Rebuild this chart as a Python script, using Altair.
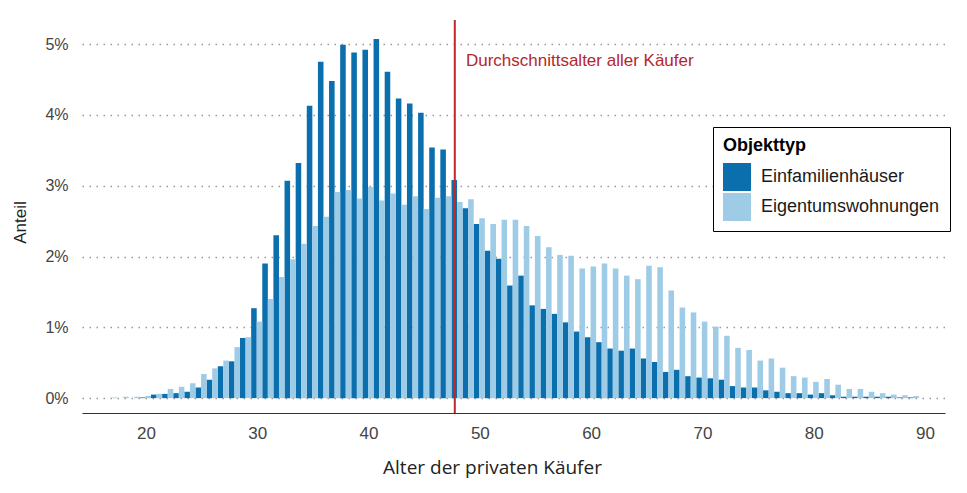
import altair as alt
import pandas as pd

ages = list(range(17, 90))
efh = [0.0, 0.0, 0.0, 0.01, 0.05, 0.06, 0.07, 0.09, 0.15, 0.26,
       0.45, 0.52, 0.85, 1.27, 1.90, 2.30, 3.07, 3.32, 4.13, 4.75,
       4.48, 4.99, 4.88, 4.92, 5.07, 4.61, 4.23, 4.16, 4.03, 3.54,
       3.51, 3.08, 2.68, 2.46, 2.08, 1.97, 1.59, 1.73, 1.31, 1.26,
       1.19, 1.07, 0.94, 0.86, 0.79, 0.70, 0.67, 0.70, 0.56, 0.51,
       0.37, 0.40, 0.31, 0.29, 0.28, 0.26, 0.17, 0.15, 0.15, 0.11,
       0.09, 0.07, 0.07, 0.05, 0.07, 0.04, 0.02, 0.02, 0.02, 0.02,
       0.02, 0.01, 0.01]
etw = [0.01, 0.02, 0.02, 0.03, 0.06, 0.13, 0.16, 0.21, 0.34, 0.42,
       0.53, 0.72, 0.86, 1.08, 1.40, 1.71, 1.96, 2.18, 2.43, 2.56,
       2.91, 2.94, 2.82, 2.98, 2.79, 2.89, 2.73, 2.85, 2.67, 2.83,
       2.85, 2.77, 2.81, 2.54, 2.46, 2.52, 2.52, 2.43, 2.29, 2.13,
       2.02, 2.01, 1.83, 1.86, 1.90, 1.83, 1.73, 1.68, 1.87, 1.85,
       1.52, 1.28, 1.21, 1.08, 1.01, 0.88, 0.71, 0.68, 0.53, 0.56,
       0.43, 0.31, 0.29, 0.23, 0.27, 0.19, 0.13, 0.13, 0.09, 0.07,
       0.05, 0.04, 0.03]
types = ["Einfamilienhäuser", "Eigentumswohnungen"]
colors = ["#0b6fae", "#9ecbe6"]
mean_age = [47.75]
annotation = ["Durchschnittsalter aller Käufer"]
annot_x = [48.75]
annot_y = [4.76]
x_ticks = [20, 30, 40, 50, 60, 70, 80, 90]
y_ticks = [0, 0.5, 1, 1.5, 2, 2.5, 3, 3.5, 4, 4.5, 5]

rows = []
for a, v in zip(ages, efh):
    rows.append({"Alter": a, "Objekttyp": types[0], "Anteil": v})
for a, v in zip(ages, etw):
    rows.append({"Alter": a, "Objekttyp": types[1], "Anteil": v})
df = pd.DataFrame(rows)

FONT = "Liberation Sans"
xscale = alt.Scale(domain=[14.25, 91.8], nice=False, zero=False)
yscale = alt.Scale(domain=[-0.21, 5.34], nice=False, zero=False)

bars = alt.Chart(df).transform_calculate(
    x0="datum.Objekttyp == 'Einfamilienhäuser' ? datum.Alter - 0.55 : datum.Alter - 0.05",
    x1="datum.Objekttyp == 'Einfamilienhäuser' ? datum.Alter - 0.05 : datum.Alter + 0.45",
).mark_bar(strokeWidth=0).encode(
    x=alt.X("x0:Q", scale=xscale, title="Alter der privaten Käufer",
            axis=alt.Axis(values=x_ticks, grid=False, ticks=False, domain=True,
                          domainColor="#333333", domainWidth=1.2,
                          labelFontSize=17, labelColor="#444444", labelFont=FONT,
                          labelPadding=12, titleFont="Open Sans", titleFontSize=19,
                          titleFontWeight="normal", titleColor="#222222",
                          titleX=410, titleY=54, titleAlign="center",
                          titleBaseline="middle")),
    x2="x1:Q",
    y=alt.Y("Anteil:Q", scale=yscale, title="Anteil",
            axis=alt.Axis(values=y_ticks, grid=True, gridDash=[1.5, 5.5], gridColor="#999999",
                          gridWidth=1.3, ticks=False, domain=False,
                          labelExpr="datum.value % 1 == 0 ? datum.value + '%' : ''",
                          labelFontSize=16, labelColor="#444444", labelFont=FONT,
                          labelPadding=14, titleFont=FONT, titleFontSize=17,
                          titleFontWeight="normal", titleColor="#222222",
                          titleX=-62, titleY=202, titleAngle=270,
                          titleAlign="center", titleBaseline="middle")),
    y2=alt.datum(0),
    color=alt.Color("Objekttyp:N", scale=alt.Scale(domain=types, range=colors),
                    legend=alt.Legend(orient="none", legendX=631, legendY=107,
                                      title="Objekttyp", strokeColor="black",
                                      fillColor="white", padding=10,
                                      symbolType="square", symbolSize=784,
                                      symbolStrokeWidth=0, labelFontSize=18,
                                      labelFont=FONT, titleFont=FONT, labelLimit=400,
                                      titleFontSize=18, titleFontWeight="bold",
                                      titleColor="black", labelColor="#1a1a1a",
                                      rowPadding=2, labelOffset=10, titlePadding=8)),
)

rule = alt.Chart(pd.DataFrame({"x": mean_age})).mark_rule(
    color="#c0272d", strokeWidth=2
).encode(x=alt.X("x:Q", scale=xscale))

text = alt.Chart(pd.DataFrame({"x": annot_x, "y": annot_y, "t": annotation})).mark_text(
    align="left", baseline="middle", color="#b5262b", fontSize=17, font=FONT
).encode(x=alt.X("x:Q", scale=xscale), y=alt.Y("y:Q", scale=yscale), text="t:N")

chart = alt.layer(bars, rule, text).properties(
    width=863, height=393,
    autosize=alt.AutoSizeParams(type="none"),
    padding={"left": 74, "top": 12, "right": 10, "bottom": 70},
).configure_view(stroke=None)

chart.save("out.html", embed_options={"renderer": "svg", "actions": False})
